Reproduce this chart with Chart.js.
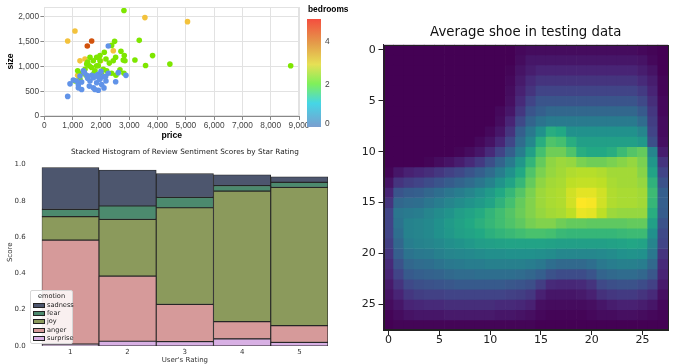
<!DOCTYPE html>
<html>
<head>
<meta charset="utf-8">
<script src="https://cdn.jsdelivr.net/npm/chart.js@4.4.0/dist/chart.umd.min.js"></script>
<style>
  body { margin: 0; background: #fff; }
  #wrap { position: relative; width: 685px; height: 364px; overflow: hidden; background: #fff; }
  #wrap canvas { position: absolute; }
  #bedLegend { position: absolute; left: 0; top: 0; font-family: "Liberation Sans", Arial, sans-serif; }
  #bedLegend .ttl { position: absolute; left: 308px; top: 4px; font-size: 8.4px; font-weight: bold; color: #000; white-space: nowrap; }
  #bedLegend .bar { position: absolute; left: 307px; top: 19px; width: 14px; height: 108px;
    background: linear-gradient(to top, #7a9ecf 0%, #45d6e6 22%, #7ff05a 40%, #e6e055 58%, #e49a4a 78%, #f44e3f 100%); }
  #bedLegend .lab { position: absolute; left: 325px; font-size: 8.4px; color: #444; line-height: 10px; }
  #emoLegend { position: absolute; left: 30px; top: 290px; width: 43px; height: 54px; box-sizing: border-box;
    background: rgba(255,255,255,0.85); border: 1px solid #d6d6d6; border-radius: 2px;
    font-family: "DejaVu Sans", sans-serif; font-size: 6.6px; color: #222; }
  #emoLegend .ttl { text-align: center; margin-top: 1px; height: 8.5px; }
  #emoLegend .row { height: 8.4px; position: relative; }
  #emoLegend .sw { position: absolute; left: 2px; top: 2px; width: 10px; height: 3px; border: 0.8px solid #222; }
  #emoLegend .nm { position: absolute; left: 16px; top: 0; line-height: 8px; }
</style>
</head>
<body>
<div id="wrap">
  <canvas id="shoeChart" width="345" height="364" style="left:340px;top:0"></canvas>
  <canvas id="emotionChart" width="340" height="224" style="left:0;top:140px"></canvas>
  <canvas id="houseChart" width="315" height="141" style="left:0;top:0"></canvas>
  <div id="bedLegend">
    <div class="ttl">bedrooms</div>
    <div class="bar"></div>
    <div class="lab" style="top:36px">4</div>
    <div class="lab" style="top:79px">2</div>
    <div class="lab" style="top:118px">0</div>
  </div>
  <div id="emoLegend"></div>
</div>
<script>
// ---- house prices (scatter) ----
var price = [2812, 3353, 3824, 3200, 4435, 3576, 8706, 2482, 2376, 2706, 2824, 2788, 2518, 2118, 1847, 1612, 1494, 1729, 1965, 2176, 2294, 2435, 1435, 1670, 1906, 2082, 1176, 1470, 1753, 2200, 2376, 2529, 2812, 1965, 1847, 1529, 1317, 1082, 1258, 1588, 1788, 2024, 2671, 2847,
  3553, 5059, 1081, 823, 2435, 1258, 1435, 1989, 1176,
  1671, 1517,
  2259, 823, 905, 1200, 1258, 1376, 1317, 1200, 1612, 1729, 1729, 1788, 1906, 1847, 1941, 2082, 2176, 2106, 1906, 2259, 2519, 2612, 2883, 1494, 1670, 1788, 1965, 2165, 1317, 1023, 1588, 2024, 1141, 1411, 1530, 1850, 2000];
var size = [2130, 1527, 1219, 1130, 1048, 1020, 1014, 1507, 1425, 1308, 1219, 1130, 1185, 1288, 1185, 1185, 1048, 1116, 1116, 1151, 1068, 1116, 945, 979, 1014, 945, 911, 822, 863, 911, 863, 822, 863, 1219, 1014, 1089, 863, 705, 740, 1014, 911, 842, 932, 1116,
  1986, 1904, 1715, 1514, 1318, 1113, 1148, 1113, 820,
  1514, 1413,
  1413, 396, 649, 637, 808, 911, 534, 568, 705, 774, 568, 534, 521, 671, 753, 795, 705, 567, 842, 863, 690, 875, 820, 822, 822, 795, 740, 795, 685, 726, 603, 637, 705, 880, 760, 820, 900];
var bedrooms = [2, 2, 2, 2, 2, 2, 2, 2, 2, 2, 2, 2, 2, 2, 2, 2, 2, 2, 2, 2, 2, 2, 2, 2, 2, 2, 2, 2, 2, 2, 2, 2, 2, 2, 2, 2, 2, 2, 2, 2, 2, 2, 2, 2,
  3, 3, 3, 3, 3, 3, 3, 3, 3,
  4, 4,
  1, 1, 1, 1, 1, 1, 1, 1, 1, 1, 1, 1, 1, 1, 1, 1, 1, 1, 1, 1, 1, 1, 1, 1, 1, 1, 1, 1, 1, 1, 1, 1, 1, 1, 1, 1, 1];
var priceTicks = [0, 1000, 2000, 3000, 4000, 5000, 6000, 7000, 8000, 9000];
var sizeTicks = [0, 500, 1000, 1500, 2000];
var bedroomColors = { 1: '#6193e8', 2: '#7ee600', 3: '#f3c23c', 4: '#d2520c' };

// ---- review sentiment (stacked bars) ----
var ratings = ['1', '2', '3', '4', '5'];
var surprise = [0.010, 0.026, 0.024, 0.039, 0.020];
var anger = [0.573, 0.359, 0.205, 0.095, 0.092];
var joy = [0.129, 0.312, 0.532, 0.719, 0.761];
var fear = [0.040, 0.074, 0.057, 0.030, 0.028];
var sadness = [0.231, 0.198, 0.131, 0.060, 0.031];
var scoreTicks = [0, 0.2, 0.4, 0.6, 0.8, 1.0];

// ---- average shoe (28x28 pixel means, 0-100) ----
var shoePixels = [
  [0,0,0,0,0,0,0,0,0,0,0,0,0,2,3,3,3,3,3,3,3,3,3,3,3,2,1,0],
  [0,0,0,0,0,0,0,0,0,0,0,0,0,3,6,6,6,6,6,6,6,6,6,6,6,5,2,0],
  [0,0,0,0,0,0,0,0,0,0,0,0,1,5,8,10,10,10,10,10,10,10,10,10,10,8,5,0],
  [0,0,0,0,0,0,0,0,0,0,0,0,2,7,12,15,15,15,15,15,15,15,15,15,15,12,8,1],
  [0,0,0,0,0,0,0,0,0,0,0,0,3,9,15,20,20,20,20,20,20,20,20,20,20,17,10,1],
  [0,0,0,0,0,0,0,0,0,0,0,0,4,12,20,26,26,26,26,26,26,26,26,26,26,22,13,2],
  [0,0,0,0,0,0,0,0,0,0,0,2,6,16,26,30,33,33,33,33,33,33,33,33,33,28,16,2],
  [0,0,0,0,0,0,0,0,0,0,0,3,10,22,32,38,41,41,41,41,41,41,41,41,41,35,18,3],
  [0,0,0,0,0,0,0,0,0,0,2,6,15,30,40,50,62,60,50,50,50,50,50,50,50,45,20,3],
  [0,0,0,0,0,0,0,0,0,2,5,11,21,35,46,62,72,70,62,56,56,56,56,56,56,53,24,4],
  [0,0,0,0,0,0,0,1,3,6,12,20,30,42,56,70,78,78,72,62,60,60,62,68,73,76,45,8],
  [0,0,0,0,1,3,5,8,12,17,24,32,41,52,65,76,83,85,84,80,78,78,80,82,84,80,52,15],
  [1,6,9,11,13,16,19,22,26,30,35,42,50,60,72,80,84,86,88,89,89,88,86,86,86,82,58,20],
  [5,15,18,20,23,26,29,32,35,39,44,51,58,66,76,83,86,87,90,91,91,90,87,86,86,84,64,25],
  [10,26,29,30,33,36,39,42,45,49,54,60,66,73,80,85,87,88,93,96,96,93,88,87,87,86,68,30],
  [15,33,35,36,39,42,45,48,51,54,58,64,70,76,81,85,87,88,93,100,99,93,88,87,87,86,66,30],
  [20,39,41,42,45,48,51,55,58,61,65,69,73,77,81,84,86,87,90,97,96,90,85,84,84,84,62,29],
  [20,38,44,45,47,50,54,57,60,63,66,69,72,75,79,81,81,78,76,76,75,75,75,75,76,76,56,25],
  [20,36,44,45,47,50,53,56,58,60,63,65,67,69,71,71,70,67,66,66,66,66,66,67,68,68,50,22],
  [18,33,42,44,45,47,49,51,53,55,56,57,58,58,58,58,57,56,56,56,56,56,57,58,59,58,45,20],
  [15,30,38,40,41,43,45,46,47,48,49,49,50,50,50,49,48,46,46,46,46,47,48,50,51,50,40,15],
  [12,25,33,35,36,38,40,41,42,42,43,43,43,43,42,40,36,34,34,34,36,40,42,43,43,42,34,12],
  [10,20,28,30,31,32,34,35,35,36,36,36,36,35,33,30,25,23,23,23,26,32,34,35,35,33,27,10],
  [7,15,22,24,25,26,27,28,28,28,28,28,27,26,24,18,12,11,11,12,15,22,24,25,25,23,19,7],
  [5,10,16,18,19,19,20,20,20,20,20,20,19,18,16,9,6,6,6,7,9,14,16,17,17,15,12,4],
  [3,6,10,11,12,12,13,13,13,13,13,12,12,11,9,4,3,3,3,3,4,6,8,9,9,8,6,2],
  [1,3,5,6,6,6,7,7,7,7,7,6,6,5,4,2,1,1,1,1,2,3,3,4,4,3,2,1],
  [0,1,1,1,1,1,1,1,1,1,1,1,1,1,1,0,0,0,0,0,0,0,0,0,0,0,0,0]
];
var pixelTicks = [0, 5, 10, 15, 20, 25];

var viridisStops = ['#440154', '#482475', '#414487', '#355f8d', '#2a788e', '#21918c', '#22a884', '#44bf70', '#7ad151', '#bddf26', '#fde725'];
function hexRgb(h) { return [parseInt(h.substr(1, 2), 16), parseInt(h.substr(3, 2), 16), parseInt(h.substr(5, 2), 16)]; }
function viridis(t) {
  t = Math.max(0, Math.min(1, t)) * (viridisStops.length - 1);
  var i = Math.min(Math.floor(t), viridisStops.length - 2);
  var f = t - i;
  var a = hexRgb(viridisStops[i]), b = hexRgb(viridisStops[i + 1]);
  return 'rgb(' + [0, 1, 2].map(function (k) { return Math.round(a[k] + (b[k] - a[k]) * f); }).join(',') + ')';
}

function fixTicks(list) {
  return function (scale) { scale.ticks = list.map(function (v) { return { value: v }; }); };
}
// force the axis box size and drop the label overflow padding
function boxWidth(w) {
  return function (s) { s.width = w; s.paddingTop = 0; s.paddingBottom = 0; };
}
function boxHeight(h) {
  return function (s) { s.height = h; s.paddingLeft = 0; s.paddingRight = 0; };
}

var frameBox = function (color, width) {
  return {
    id: 'frameBox',
    afterDatasetsDraw: function (chart) {
      var a = chart.chartArea, ctx = chart.ctx;
      ctx.save();
      ctx.strokeStyle = color;
      ctx.lineWidth = width;
      ctx.strokeRect(Math.round(a.left) + 0.5, Math.round(a.top) + 0.5, Math.round(a.right - a.left) - 1, Math.round(a.bottom - a.top) - 1);
      ctx.restore();
    }
  };
};

// scatter
var vegaFont = '"Liberation Sans", Arial, sans-serif';
var houseSets = [1, 2, 3, 4].map(function (b) {
  var pts = [];
  for (var i = 0; i < price.length; i++) {
    if (bedrooms[i] === b) pts.push({ x: price[i], y: size[i] });
  }
  return { data: pts, backgroundColor: bedroomColors[b], borderWidth: 0, pointRadius: 2.8 };
});

new Chart(document.getElementById('houseChart'), {
  type: 'scatter',
  data: { datasets: houseSets },
  options: {
    responsive: false,
    animation: false,
    layout: { padding: { top: 7, right: 16, left: 0, bottom: 0 } },
    plugins: { legend: { display: false }, tooltip: { enabled: false } },
    scales: {
      x: {
        type: 'linear', min: 0, max: 9000,
        afterBuildTicks: fixTicks(priceTicks),
        afterFit: boxHeight(25),
        grid: { color: '#e2e2e2', tickColor: '#888', tickLength: 4 },
        border: { color: '#888' },
        ticks: { autoSkip: false, maxRotation: 0, padding: 1, color: '#444', font: { family: vegaFont, size: 8.3 },
          callback: function (v) { return v.toLocaleString('en-US'); } },
        title: { display: true, text: 'price', color: '#000', padding: 0, font: { family: vegaFont, size: 8.6, weight: 'bold' } }
      },
      y: {
        type: 'linear', min: 0, max: 2200,
        afterBuildTicks: fixTicks(sizeTicks),
        afterFit: boxWidth(44.4),
        grid: { color: '#e2e2e2', tickColor: '#888', tickLength: 4 },
        border: { color: '#888' },
        ticks: { padding: 1.4, color: '#444', font: { family: vegaFont, size: 8.3 },
          callback: function (v) { return v.toLocaleString('en-US'); } },
        title: { display: true, text: 'size', color: '#000', padding: { top: 5, bottom: 0 }, font: { family: vegaFont, size: 8.6, weight: 'bold' } }
      }
    }
  },
  plugins: [frameBox('#e2e2e2', 1)]
});

// stacked bars
var dejavu = '"DejaVu Sans", sans-serif';
var emotions = [
  { name: 'surprise', values: surprise, color: '#d8b0e4' },
  { name: 'anger', values: anger, color: '#d69a9a' },
  { name: 'joy', values: joy, color: '#8b9a5c' },
  { name: 'fear', values: fear, color: '#4c8a6e' },
  { name: 'sadness', values: sadness, color: '#4d566e' }
];

new Chart(document.getElementById('emotionChart'), {
  type: 'bar',
  data: {
    labels: ratings,
    datasets: emotions.map(function (e) {
      return { label: e.name, data: e.values, backgroundColor: e.color, borderColor: '#262626', borderWidth: 0.9,
        borderSkipped: false, barPercentage: 1, categoryPercentage: 1 };
    })
  },
  options: {
    responsive: false,
    animation: false,
    layout: { padding: { top: 0, right: 12, left: 0, bottom: 0 } },
    plugins: {
      legend: { display: false }, tooltip: { enabled: false },
      title: { display: true, text: 'Stacked Histogram of Review Sentiment Scores by Star Rating', color: '#222', fullSize: false,
        padding: { top: 8, bottom: 1.8 }, font: { family: dejavu, size: 7.3, weight: 'normal' } }
    },
    scales: {
      x: {
        stacked: true,
        afterFit: boxHeight(18),
        grid: { display: false, drawTicks: false },
        border: { display: false },
        ticks: { padding: 2, color: '#333', font: { family: dejavu, size: 7 } },
        title: { display: true, text: "User's Rating", color: '#333', padding: 0, font: { family: dejavu, size: 7 } }
      },
      y: {
        stacked: true, min: 0, max: 1.032,
        afterBuildTicks: fixTicks(scoreTicks),
        afterFit: boxWidth(41.7),
        grid: { display: false, drawTicks: false },
        border: { display: false },
        ticks: { padding: 16, color: '#333', font: { family: dejavu, size: 7 },
          callback: function (v) { return v.toFixed(1); } },
        title: { display: true, text: 'Score', color: '#333', padding: { top: 6, bottom: 0 }, font: { family: dejavu, size: 7 } }
      }
    }
  }
});

var legendBox = document.getElementById('emoLegend');
var html = '<div class="ttl">emotion</div>';
emotions.slice().reverse().forEach(function (e) {
  html += '<div class="row"><span class="sw" style="background:' + e.color + '"></span><span class="nm">' + e.name + '</span></div>';
});
legendBox.innerHTML = html;

// heatmap
var colLabels = shoePixels[0].map(function (v, i) { return String(i); });
new Chart(document.getElementById('shoeChart'), {
  type: 'bar',
  data: {
    labels: colLabels,
    datasets: shoePixels.map(function (row, r) {
      return {
        data: row.map(function () { return [r - 0.5, r + 0.5]; }),
        backgroundColor: row.map(function (v) { return viridis(v / 100); }),
        borderWidth: 0, grouped: false, barPercentage: 1, categoryPercentage: 1
      };
    })
  },
  options: {
    responsive: false,
    animation: false,
    layout: { padding: { top: 0, right: 17, left: 0, bottom: 0 } },
    plugins: {
      legend: { display: false }, tooltip: { enabled: false },
      title: { display: true, text: 'Average shoe in testing data', color: '#111', fullSize: false,
        padding: { top: 25, bottom: 3.7 }, font: { family: dejavu, size: 13.3, weight: 'normal' } }
    },
    scales: {
      x: {
        offset: true,
        afterFit: boxHeight(34),
        grid: { offset: false, drawOnChartArea: false, tickLength: 5,
          color: function (c) { return c.index % 5 === 0 ? '#222' : 'rgba(0,0,0,0)'; } },
        border: { display: true, color: '#222' },
        ticks: { autoSkip: false, maxRotation: 0, padding: -1, color: '#222', font: { family: dejavu, size: 11 },
          callback: function (v, i) { return i % 5 === 0 ? colLabels[i] : ''; } }
      },
      y: {
        type: 'linear', reverse: true, min: -0.5, max: 27.5,
        afterBuildTicks: fixTicks(pixelTicks),
        afterFit: boxWidth(43.5),
        grid: { drawOnChartArea: false, tickLength: 5, color: '#222' },
        border: { display: true, color: '#222' },
        ticks: { padding: 2.8, color: '#222', font: { family: dejavu, size: 11 } }
      }
    }
  },
  plugins: [frameBox('#222', 1)]
});
</script>
</body>
</html>
